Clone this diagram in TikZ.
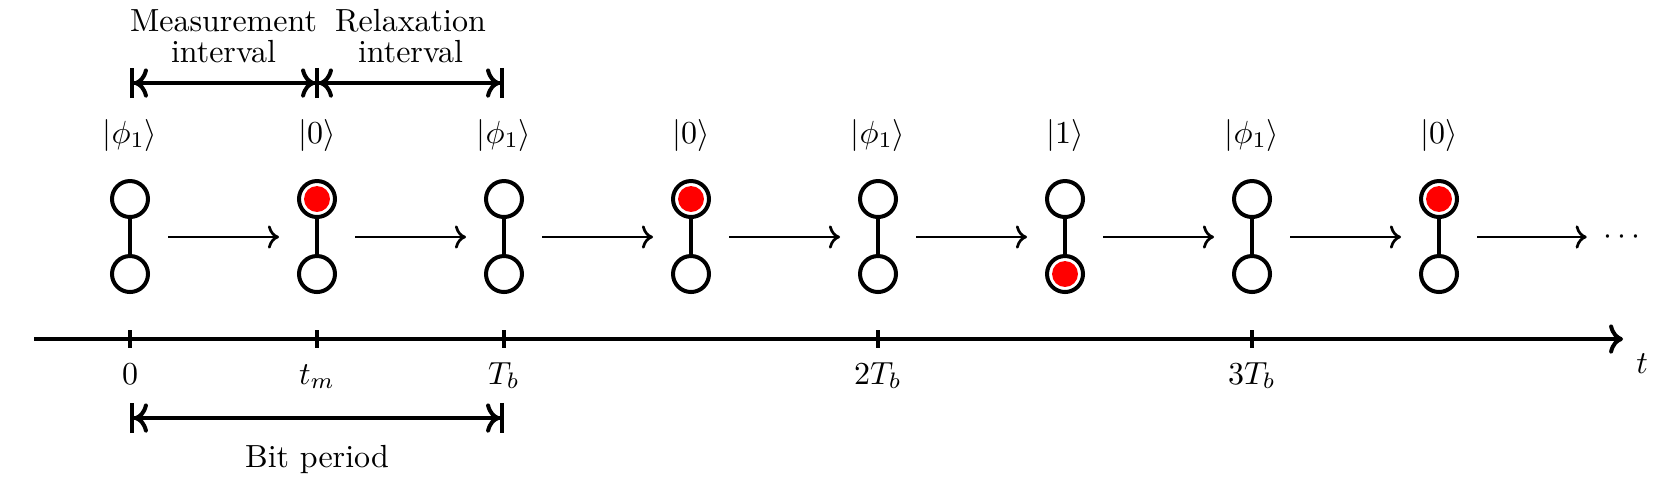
\documentclass[tikz,border=0pt]{standalone}
\usetikzlibrary{arrows.meta}
\begin{document}
\begin{tikzpicture}[x=0.3125pt,y=-0.3125pt,
  qcirc/.style={circle,draw,line width=1.25pt,minimum size=11.25pt,inner sep=0pt,outer sep=0pt,fill=white},
  qdot/.style={circle,fill=red,minimum size=8.1pt,inner sep=0pt},
  qlink/.style={line width=1.25pt},
  slot/.style={minimum width=23.75pt,minimum height=10pt,inner sep=0pt,outer sep=0pt},
  trans/.style={-{To[]},line width=0.85pt},
  axisline/.style={line width=1.25pt,-{To[]}},
  tickmark/.style={line width=1.25pt},
  dim/.style={line width=1.25pt,{Bar[width=9.4pt] To[]}-{To[] Bar[width=9.4pt]}},
  lbl/.style={anchor=base,inner sep=0pt},
]
\useasboundingbox (0,0) rectangle (1660,485);

% qubits
\foreach \i/\k in {0/{\phi_1}, 1/0, 2/{\phi_1}, 3/0, 4/{\phi_1}, 5/1, 6/{\phi_1}, 7/0} {
  \pgfmathsetmacro\xx{130+187*\i}
  \node[qcirc] (t\i) at (\xx,199) {};
  \node[qcirc] (b\i) at (\xx,274) {};
  \draw[qlink] (t\i) -- (b\i);
  \node[slot] (s\i) at (\xx,237) {};
  \node[lbl] (k\i) at (\xx,143) {$|\k\rangle$};
}
\node[qdot] (d1) at (t1.center) {};
\node[qdot] (d3) at (t3.center) {};
\node[qdot] (d5) at (b5.center) {};
\node[qdot] (d7) at (t7.center) {};

% transitions
\foreach \i [evaluate=\i as \j using int(\i+1)] in {0,...,6} {
  \draw[trans] (s\i.east) -- (s\j.west);
}
\node[inner ysep=0pt,inner xsep=5pt] (dots) at (1622,237) {$\cdots$};
\draw[trans] (s7.east) -- (dots.west);

% time axis
\coordinate (a0) at (34,339);
\coordinate (a1) at (1623,339);
\draw[axisline] (a0) -- (a1);
\node[lbl] (tl) at (1642,373) {$t$};
\foreach \x/\l in {130/0, 317/t_m, 504/T_b, 878/2T_b, 1252/3T_b} {
  \draw[tickmark] (\x,330) -- (\x,348);
  \node[lbl] (tk\x) at (\x,384) {$\l$};
}

% intervals
\coordinate (m0) at (130,83);
\coordinate (m1a) at (319,83);
\coordinate (m1b) at (315,83);
\coordinate (m2) at (504,83);
\draw[dim] (m0) -- (m1a);
\draw[dim] (m1b) -- (m2);
\node[lbl,align=center] (meas) at (223.5,62) {Measurement\\[-2.6pt]interval};
\node[lbl,align=center] (relax) at (410.5,62) {Relaxation\\[-2.6pt]interval};

\coordinate (p0) at (130,418);
\coordinate (p1) at (504,418);
\draw[dim] (p0) -- (p1);
\node[lbl] (bp) at (317,467) {Bit period};
\end{tikzpicture}
\end{document}
